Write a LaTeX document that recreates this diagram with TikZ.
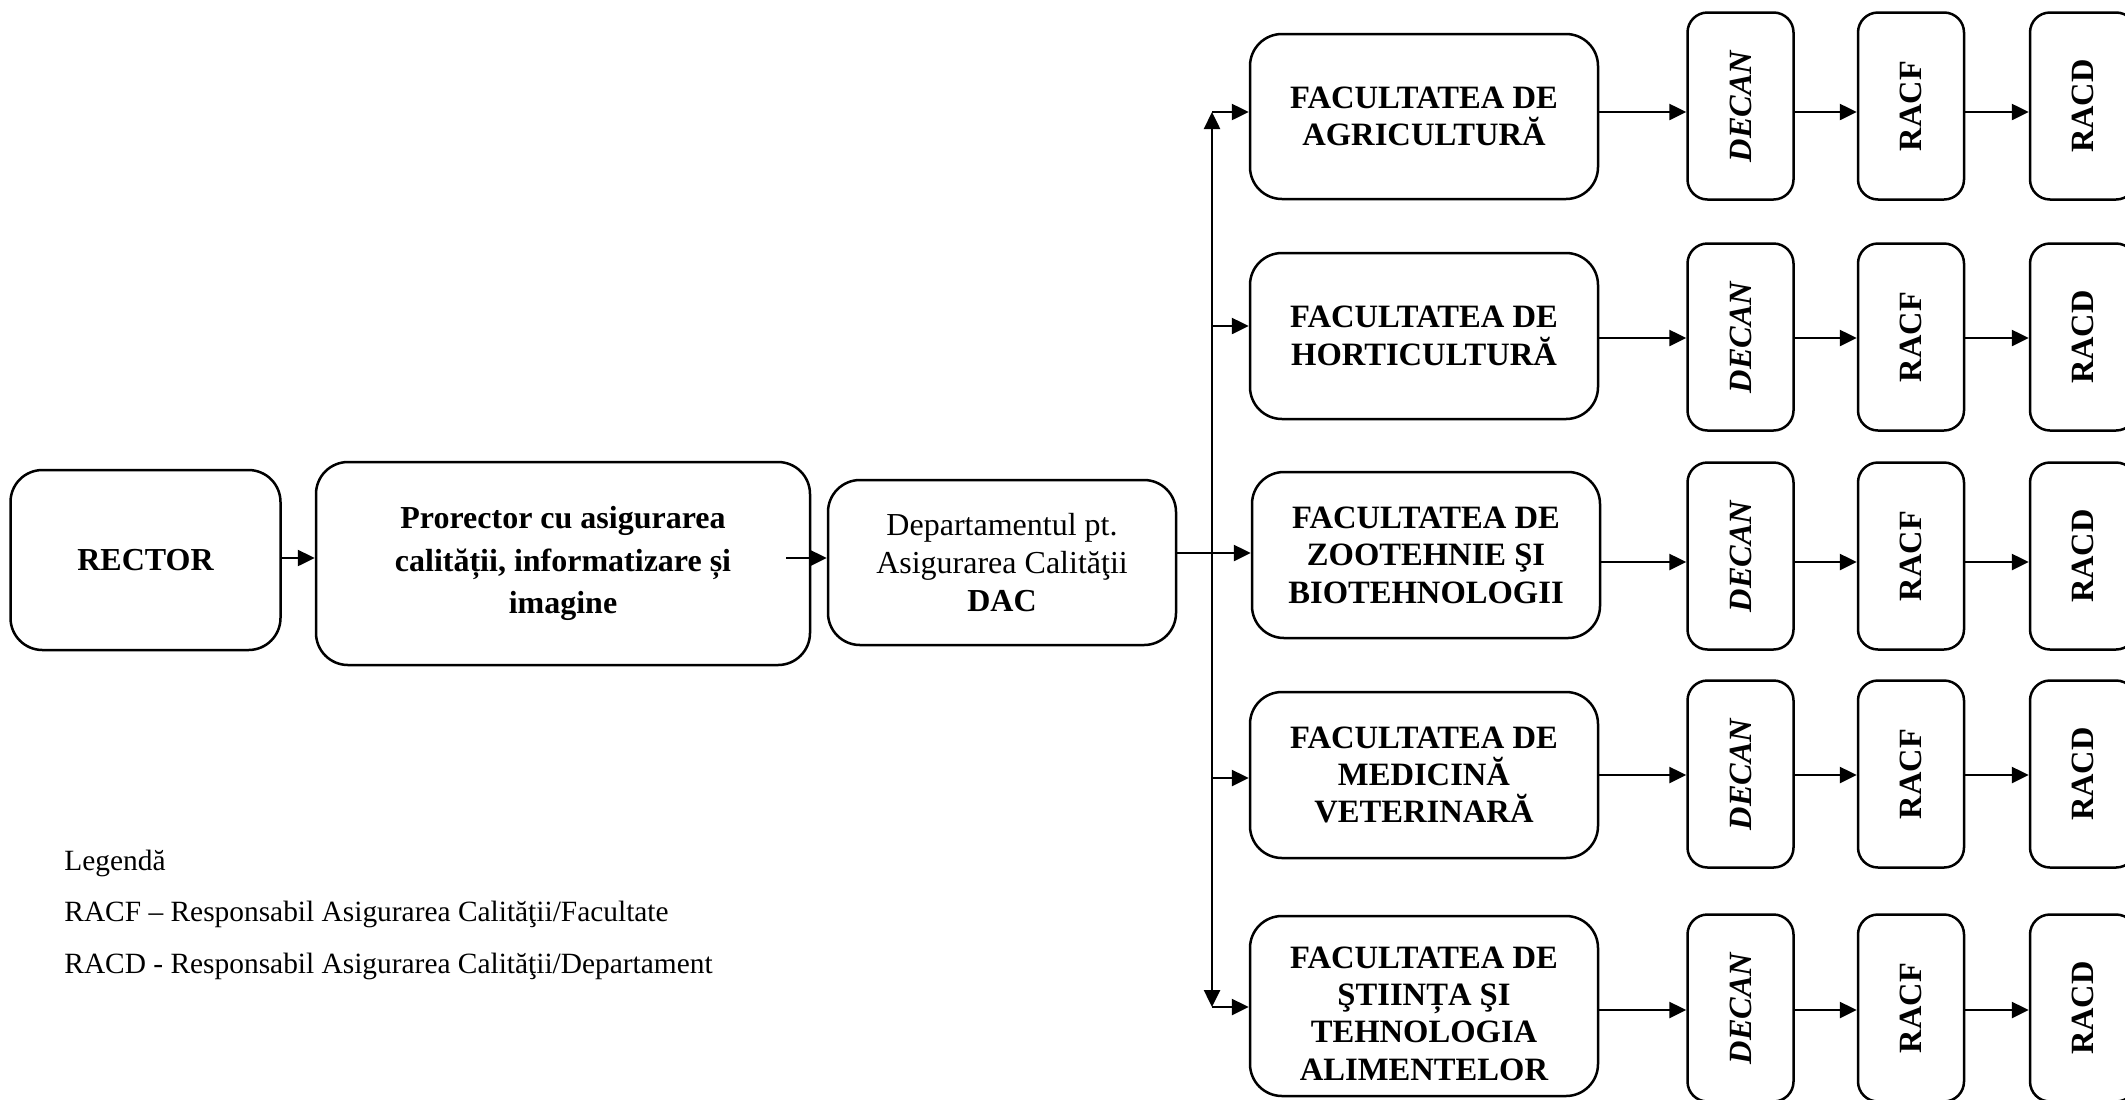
\documentclass[tikz,border=0pt]{standalone}
\usepackage{fontspec}
\setmainfont{Liberation Serif}
\usepackage{graphicx}
\usetikzlibrary{arrows.meta}
\tikzset{
  box/.style={draw, line width=1.25pt, rounded corners=16pt, align=center, inner sep=0pt},
  smallbox/.style={draw, line width=1.25pt, rounded corners=10pt, minimum width=53pt, minimum height=93.5pt, inner sep=0pt, font=\fontsize{16.2}{18}\selectfont\bfseries},
  factext/.style={align=center, inner sep=0pt, font=\fontsize{16.3}{18.7}\selectfont\bfseries},
  fac/.style={box, minimum width=174pt, factext},
  arrtip/.tip={Triangle[length=8.5pt,width=8pt]},
  arr/.style={line width=1.25pt, -arrtip},
  plainline/.style={line width=1.25pt},
  legendtext/.style={anchor=base west, inner sep=0pt, font=\fontsize{14.7}{17}\selectfont},
}
\begin{document}
\begin{tikzpicture}[x=0.5pt,y=-0.5pt]
\useasboundingbox (0,0) rectangle (2125,1099);

% left chain
\node[box, font=\fontsize{16}{18.5}\selectfont\bfseries, minimum width=135pt, minimum height=90pt] (R) at (145.5,560) {RECTOR};
\node[box, font=\fontsize{16}{21.3}\selectfont\bfseries, minimum width=247pt, minimum height=101.5pt] (P) at (563,563.5) {Prorector cu asigurarea\\calității, informatizare și\\imagine};
\node[box, font=\fontsize{16}{19}\selectfont, minimum width=174pt, minimum height=82.5pt] (DAC) at (1002,562.5) {Departamentul pt.\\Asigurarea Calităţii\\\textbf{DAC}};

% faculties
\node[fac, minimum height=82.5pt] (F1) at (1424,116.5) {FACULTATEA DE\\AGRICULTURĂ};
\node[fac, minimum height=83pt] (F2) at (1424,336) {FACULTATEA DE\\HORTICULTURĂ};
\node[fac, minimum height=83pt] (F3) at (1426,555) {FACULTATEA DE\\ZOOTEHNIE ŞI\\BIOTEHNOLOGII};
\node[fac, minimum height=83pt] (F4) at (1424,775) {FACULTATEA DE\\MEDICINĂ\\VETERINARĂ};
\node[fac, minimum height=90pt] (F5) at (1424,1006) {};
\node[factext] (F5t) at ([yshift=-3.75pt]F5.center) {FACULTATEA DE\\ŞTIINȚA ŞI\\TEHNOLOGIA\\ALIMENTELOR};

% small boxes
\foreach \i/\y in {1/106,2/337,3/556,4/774,5/1008}{
  \node[smallbox] (D\i) at (1740.5,\y) {\rotatebox{90}{\textit{DECAN}}};
  \node[smallbox] (C\i) at (1911,\y) {\rotatebox{90}{RACF}};
  \node[smallbox] (A\i) at (2083,\y) {\rotatebox{90}{RACD}};
}

% junctions on the vertical bus
\coordinate (j1) at (1212,112);
\coordinate (j2) at (1212,326);
\coordinate (j3) at (1212,553);
\coordinate (j4) at (1212,778);
\coordinate (j5) at (1212,1007);

% output rows
\coordinate (o1) at (0,112);
\coordinate (o2) at (0,338);
\coordinate (o3) at (0,562);
\coordinate (o4) at (0,775);
\coordinate (o5) at (0,1010);

\coordinate (a0) at (0,558);

% left arrows
\draw[arr] (R.east |- a0) -- (P.west |- a0);
\draw[arr] (P.east |- a0) ++(-25,0) -- (DAC.west |- a0);
\draw[plainline] (DAC.east |- j3) -- (j3);

% vertical bus with arrow ends
\draw[plainline, arrtip-arrtip] (j1) -- (j5);

\foreach \i in {1,...,5}{
  \draw[arr] (j\i) -- (F\i.west |- j\i);
  \draw[arr] (F\i.east |- o\i) -- (D\i.west |- o\i);
  \draw[arr] (D\i.east |- o\i) -- (C\i.west |- o\i);
  \draw[arr] (C\i.east |- o\i) -- (A\i.west |- o\i);
}

% legend
\node[legendtext] (L1) at (64,870) {Legendă};
\node[legendtext] (L2) at (64,921) {RACF – Responsabil Asigurarea Calităţii/Facultate};
\node[legendtext] (L3) at (64,973) {RACD - Responsabil Asigurarea Calităţii/Departament};
\end{tikzpicture}
\end{document}
